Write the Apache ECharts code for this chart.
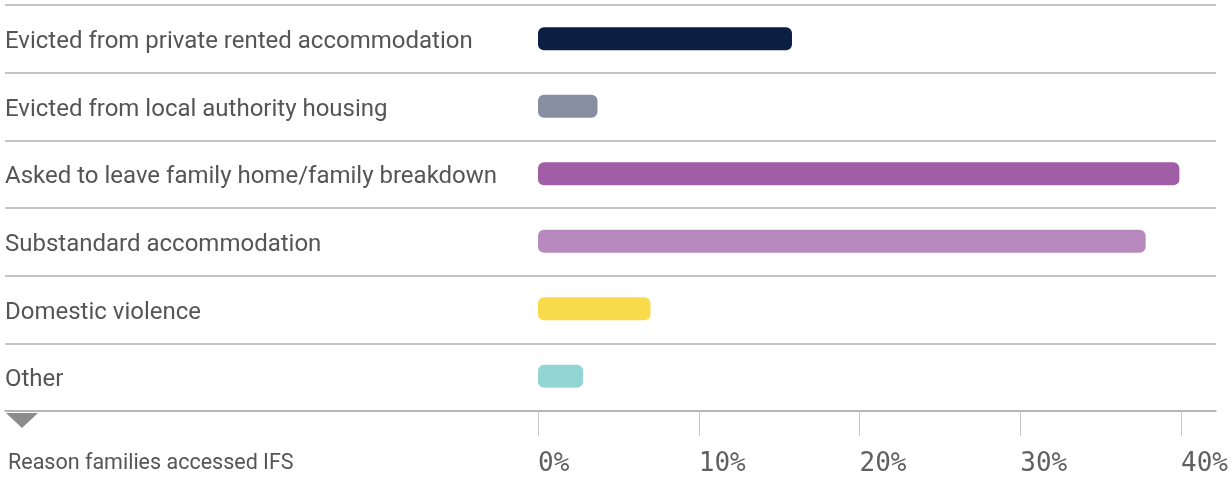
<!DOCTYPE html>
<html>
<head>
<meta charset="utf-8">
<script src="https://cdn.jsdelivr.net/npm/echarts@6/dist/echarts.min.js"></script>
<style>
  html, body { margin: 0; padding: 0; background: #fff; }
  #chart { width: 1232px; height: 477px; }
</style>
</head>
<body>
<div id="chart"></div>
<script>
const categories = [
  'Evicted from private rented accommodation',
  'Evicted from local authority housing',
  'Asked to leave family home/family breakdown',
  'Substandard accommodation',
  'Domestic violence',
  'Other'
];
const values = [15.8, 3.7, 39.9, 37.8, 7.0, 2.8];
const barColors = ['#0b1f42', '#858fa0', '#a05ea6', '#b889be', '#f9da4b', '#93d5d3'];
const xTicks = [0, 10, 20, 30, 40];
const axisTitle = 'Reason families accessed IFS';

const chart = echarts.init(document.getElementById('chart'), null, { renderer: 'canvas' });
const hiddenX = (g) => ({
  gridIndex: g, type: 'value', min: 0, max: 1, show: false
});
chart.setOption({
  animation: false,
  backgroundColor: '#ffffff',
  grid: [
    { left: 5, right: 16, top: 5, bottom: 66 },
    { left: 538, right: 51, top: 5, bottom: 66 },
    { left: 5, right: 16, top: 8, bottom: 63 }
  ],
  xAxis: [
    {
      gridIndex: 0, type: 'value', min: 0, max: 1,
      axisLine: { show: true, lineStyle: { color: '#b0b0b0', width: 1.5 } },
      axisTick: { show: false }, axisLabel: { show: false }, splitLine: { show: false }
    },
    {
      gridIndex: 1, type: 'value', min: xTicks[0], max: xTicks[xTicks.length - 1], interval: 10,
      axisLine: { show: false },
      axisTick: { show: true, length: 26, lineStyle: { color: '#c8c8c8', width: 1 } },
      splitLine: { show: false },
      axisLabel: {
        formatter: '{value}%', align: 'left', margin: 41,
        fontFamily: 'DejaVu Sans Mono', fontSize: 26, color: '#606060'
      }
    },
    hiddenX(2)
  ],
  yAxis: [
    {
      gridIndex: 0, type: 'category', data: categories, inverse: true,
      axisLine: { show: false }, axisTick: { show: false }, axisLabel: { show: false },
      splitLine: { show: true, lineStyle: { color: '#b0b0b0', width: 1.5 } }
    },
    {
      gridIndex: 1, type: 'category', data: categories, inverse: true,
      axisLine: { show: false }, axisTick: { show: false }, axisLabel: { show: false },
      splitLine: { show: false }
    },
    {
      gridIndex: 2, type: 'category', data: categories, inverse: true,
      axisLine: { show: false }, axisTick: { show: false }, splitLine: { show: false },
      axisLabel: {
        inside: true, align: 'left', margin: 0,
        fontFamily: 'Roboto', fontSize: 24, color: '#555555'
      }
    }
  ],
  series: [{
    type: 'bar', xAxisIndex: 1, yAxisIndex: 1,
    data: values.map((v, i) => ({ value: v, itemStyle: { color: barColors[i] } })),
    barWidth: 23,
    itemStyle: { borderRadius: 6 }
  }],
  graphic: [
    {
      type: 'polygon', shape: { points: [[6, 413], [38, 413], [22, 428]] },
      style: { fill: '#8c8c8c' }
    },
    {
      type: 'text', left: 8, top: 453,
      style: { text: axisTitle, font: '21.5px Roboto', fill: '#555555' }
    }
  ]
});
</script>
</body>
</html>
